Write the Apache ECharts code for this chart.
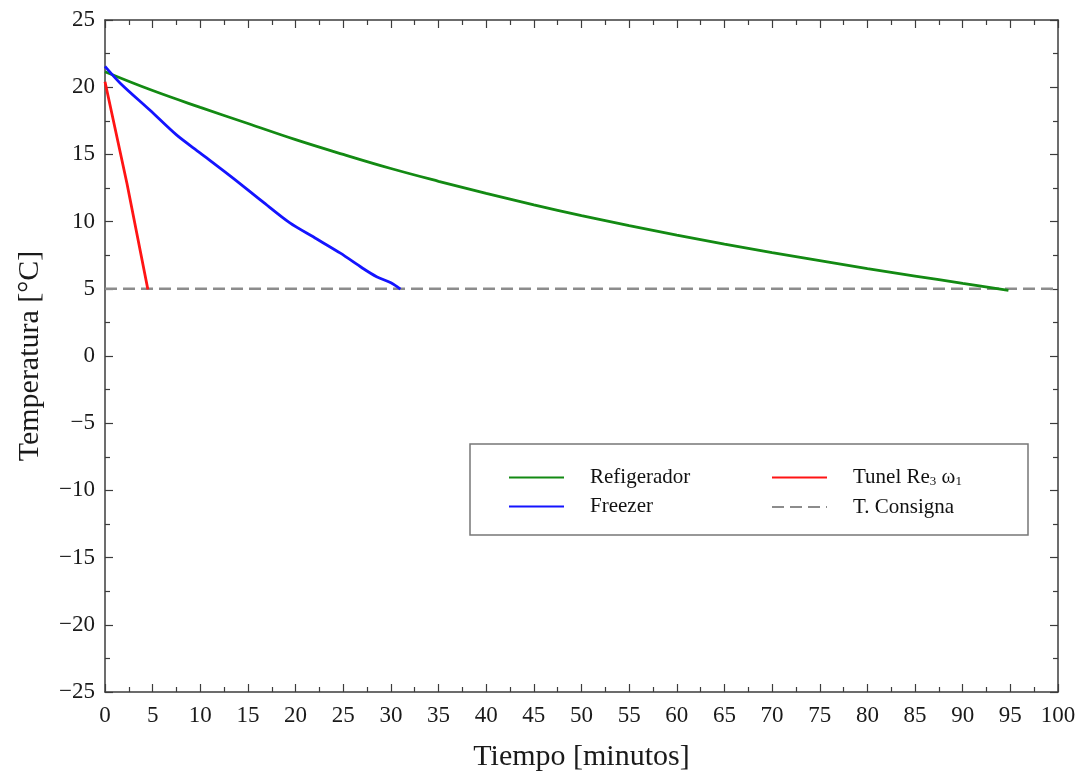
<!DOCTYPE html>
<html>
<head>
<meta charset="utf-8">
<script src="https://cdn.jsdelivr.net/npm/echarts@6/dist/echarts.min.js"></script>
<style>html,body{margin:0;padding:0;background:#fff}#c{width:1088px;height:778px}</style>
</head>
<body>
<div id="c"></div>
<script>
// ---- data ----
const refTime = [0, 5, 10, 15, 20, 25, 30, 35, 40, 45, 50, 55, 60, 65, 70, 75, 80, 85, 90, 94.8];
const refTemp = [21.15, 19.75, 18.5, 17.3, 16.1, 15.0, 13.95, 13.0, 12.1, 11.25, 10.45, 9.7, 9.0, 8.33, 7.7, 7.1, 6.5, 5.95, 5.4, 4.88];
const frzTime = [0, 1.6, 4.7, 7.5, 10, 13.5, 16.5, 19.4, 22, 24.7, 27, 28.5, 30, 31];
const frzTemp = [21.55, 20.3, 18.3, 16.45, 15.1, 13.2, 11.5, 9.9, 8.8, 7.65, 6.55, 5.9, 5.45, 4.98];
const tunTime = [0, 2.3, 4.5];
const tunTemp = [20.4, 12.85, 4.95];
const consTime = [0, 100];
const consTemp = [5, 5];
const seriesNames = ['Refigerador', 'Freezer', 'Tunel Re3 ω1', 'T. Consigna'];
const xName = 'Tiempo [minutos]';
const yName = 'Temperatura [°C]';

const pairs = (xs, ys) => xs.map((x, i) => [x, ys[i]]);
const FONT = 'Liberation Serif';
const frameColor = '#3c3c3c';

function axisBase(extra) {
  return Object.assign({
    type: 'value',
    axisLine: { show: true, onZero: false, lineStyle: { color: frameColor, width: 1.5 } },
    axisTick: { show: true, inside: true, length: 8, lineStyle: { color: frameColor, width: 1.2 } },
    minorTick: { show: true, splitNumber: 2, length: 5, lineStyle: { color: frameColor, width: 1.2 } },
    splitLine: { show: false },
    minorSplitLine: { show: false }
  }, extra);
}

const chart = echarts.init(document.getElementById('c'));
chart.setOption({
  backgroundColor: '#fff',
  animation: false,
  grid: { left: 105, right: 30, top: 20, bottom: 86, containLabel: false },
  xAxis: [
    axisBase({
      position: 'bottom', min: 0, max: 100, interval: 5,
      name: xName, nameLocation: 'middle', nameGap: 50,
      nameTextStyle: { fontFamily: FONT, fontSize: 30, color: '#1a1a1a' },
      axisLabel: { fontFamily: FONT, fontSize: 23, color: '#1a1a1a', margin: 12 }
    }),
    axisBase({ position: 'top', min: 0, max: 100, interval: 5, axisLabel: { show: false } })
  ],
  yAxis: [
    axisBase({
      position: 'left', min: -25, max: 25, interval: 5,
      name: yName, nameLocation: 'middle', nameGap: 60,
      nameTextStyle: { fontFamily: FONT, fontSize: 30, color: '#1a1a1a' },
      axisLabel: { fontFamily: FONT, fontSize: 23, color: '#1a1a1a', margin: 10,
        formatter: v => String(v).replace('-', '\u2212') }
    }),
    axisBase({ position: 'right', min: -25, max: 25, interval: 5, axisLabel: { show: false } })
  ],
  graphic: [{
    type: 'rect', z: 1,
    shape: { x: 470, y: 444, width: 558, height: 91 },
    style: { fill: '#fff', stroke: '#777', lineWidth: 1.5 }
  }],
  legend: [
    {
      data: [seriesNames[0], seriesNames[1]], orient: 'vertical', left: 503, top: 462,
      itemWidth: 55, itemHeight: 14, itemGap: 8, z: 5,
      itemStyle: { opacity: 0 },
      textStyle: { fontFamily: FONT, fontSize: 21, color: '#111', padding: [0, 0, 0, 21] }
    },
    {
      data: [seriesNames[2], seriesNames[3]], orient: 'vertical', left: 766, top: 462,
      itemWidth: 55, itemHeight: 14, itemGap: 8, z: 5,
      itemStyle: { opacity: 0 },
      formatter: n => n === seriesNames[2] ? 'Tunel Re{s|3} ω{s|1}' : n,
      textStyle: { fontFamily: FONT, fontSize: 21, color: '#111', padding: [0, 0, 0, 21],
        rich: { s: { fontFamily: FONT, fontSize: 13, color: '#111', verticalAlign: 'bottom', padding: [9, 0, 0, 0] } } }
    }
  ],
  series: [
    { name: seriesNames[3], type: 'line', data: pairs(consTime, consTemp), symbol: 'none',
      lineStyle: { color: '#8c8c8c', width: 2.6, type: [12, 6] }, itemStyle: { color: '#8c8c8c' }, z: 2 },
    { name: seriesNames[0], type: 'line', data: pairs(refTime, refTemp), symbol: 'none', smooth: 0.4,
      lineStyle: { color: '#138a13', width: 2.8 }, itemStyle: { color: '#138a13' }, z: 3 },
    { name: seriesNames[1], type: 'line', data: pairs(frzTime, frzTemp), symbol: 'none', smooth: 0.3,
      lineStyle: { color: '#1414ff', width: 2.8 }, itemStyle: { color: '#1414ff' }, z: 3 },
    { name: seriesNames[2], type: 'line', data: pairs(tunTime, tunTemp), symbol: 'none',
      lineStyle: { color: '#ff1414', width: 2.8 }, itemStyle: { color: '#ff1414' }, z: 3 }
  ]
});
</script>
</body>
</html>
